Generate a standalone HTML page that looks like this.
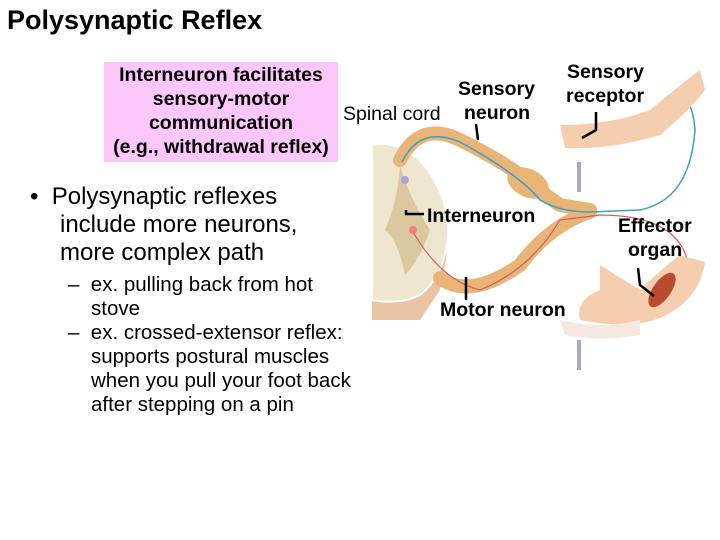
<!DOCTYPE html>
<html><head><meta charset="utf-8"><style>
body{margin:0;width:720px;height:540px;background:#fff;position:relative;overflow:hidden;font-family:"Liberation Sans",Arial,sans-serif;color:#000}
.a{position:absolute;white-space:nowrap}
</style></head><body>
<div class="a" style="left:7px;top:5px;font-size:27px;font-weight:bold">Polysynaptic Reflex</div>
<div class="a" style="left:104px;top:62px;width:234px;height:100px;background:#fcc8fc"></div>
<div class="a" style="left:94px;top:63px;width:254px;text-align:center;font-size:19.5px;font-weight:bold;line-height:24px">Interneuron facilitates<br>sensory-motor<br>communication<br>(e.g., withdrawal reflex)</div>
<div class="a" style="left:30px;top:183px;font-size:24px;line-height:28px">•&nbsp;&nbsp;Polysynaptic reflexes</div>
<div class="a" style="left:60px;top:211px;font-size:24px;line-height:28px">include more neurons,<br>more complex path</div>
<div class="a" style="left:68px;top:273px;font-size:20.5px;line-height:24px">–&nbsp;&nbsp;ex. pulling back from hot</div>
<div class="a" style="left:91px;top:297px;font-size:20.5px;line-height:24px">stove</div>
<div class="a" style="left:68px;top:321px;font-size:20.5px;line-height:24px">–&nbsp;&nbsp;ex. crossed-extensor reflex:</div>
<div class="a" style="left:91px;top:345px;font-size:20.5px;line-height:24px">supports postural muscles<br>when you pull your foot back<br>after stepping on a pin</div>
<svg class="a" style="left:0;top:0" width="720" height="540">
<path d="M372 150 L372 320 L420 320 L440 290 Q455 230 440 190 Q420 150 395 146 Z" fill="#e9c4a4"/>
<path d="M372 145 Q395 140 420 160 Q450 195 448 235 Q445 275 420 295 Q400 305 372 300 Z" fill="#efe6cf" stroke="#fff" stroke-width="2"/>
<path d="M400 165 Q410 200 430 230 Q420 260 405 275 Q398 240 385 230 Q398 200 400 165Z" fill="#d9c8a0"/>
<path d="M400 160 Q420 120 460 140 Q500 160 520 175 Q545 195 560 205 L590 210" fill="none" stroke="#e8b478" stroke-width="14" stroke-linecap="round"/>
<ellipse cx="528" cy="183" rx="22" ry="14" fill="#e8b478" transform="rotate(25 528 183)"/>
<path d="M440 278 Q470 300 520 265 Q550 225 590 212" fill="none" stroke="#e8b478" stroke-width="14" stroke-linecap="round"/>
<path d="M402 162 Q420 125 460 142 Q520 175 540 200 Q560 212 590 212 L640 210 Q690 200 695 130 Q692 95 680 105 Q640 130 580 142" fill="none" stroke="#3a9fc0" stroke-width="1.5"/>
<path d="M412 230 Q440 280 480 290 Q530 270 560 220 L600 215 Q690 215 690 280" fill="none" stroke="#d06060" stroke-width="1.2"/>
<circle cx="405" cy="180" r="4" fill="#b0a0e0"/><circle cx="413" cy="230" r="4" fill="#f08070"/>
<path d="M560 125 Q610 125 650 110 Q680 85 700 70 L705 90 Q690 110 660 135 Q610 150 565 148 Z" fill="#f5ceb0"/>
<path d="M600 265 L640 290 Q660 270 680 255 L705 262 Q700 300 660 318 Q630 330 580 320 Q575 300 600 290 Z" fill="#f5ceb0"/>
<path d="M560 320 Q600 330 640 320 L640 335 Q600 342 565 335Z" fill="#f5e8e0"/>
<ellipse cx="662" cy="290" rx="9" ry="20" fill="#b84a30" transform="rotate(35 662 290)"/>
<rect x="577" y="162" width="4" height="30" fill="#aab"/><rect x="577" y="340" width="4" height="30" fill="#aab"/>
<path d="M406 210 L406 214 L424 214" stroke="#000" stroke-width="2.5" fill="none"/>
<path d="M466 277 L466 300" stroke="#000" stroke-width="2.5"/>
<path d="M596 112 L596 130 L582 138" stroke="#000" stroke-width="2.5" fill="none"/>
<path d="M638 268 L640 285 L654 296" stroke="#000" stroke-width="2.5" fill="none"/>
<path d="M476 124 L478 140" stroke="#000" stroke-width="2.5"/>
</svg>
<div class="a" style="left:343px;top:103px;font-size:19.5px">Spinal cord</div>
<div class="a" style="left:458px;top:78px;font-size:19.5px;font-weight:bold">Sensory</div>
<div class="a" style="left:464px;top:102px;font-size:19.5px;font-weight:bold">neuron</div>
<div class="a" style="left:567px;top:61px;font-size:19.5px;font-weight:bold">Sensory</div>
<div class="a" style="left:566px;top:85px;font-size:19.5px;font-weight:bold">receptor</div>
<div class="a" style="left:427px;top:205px;font-size:19.5px;font-weight:bold">Interneuron</div>
<div class="a" style="left:618px;top:215px;font-size:19.5px;font-weight:bold">Effector</div>
<div class="a" style="left:628px;top:239px;font-size:19.5px;font-weight:bold">organ</div>
<div class="a" style="left:440px;top:299px;font-size:19.5px;font-weight:bold">Motor neuron</div>
</body></html>
